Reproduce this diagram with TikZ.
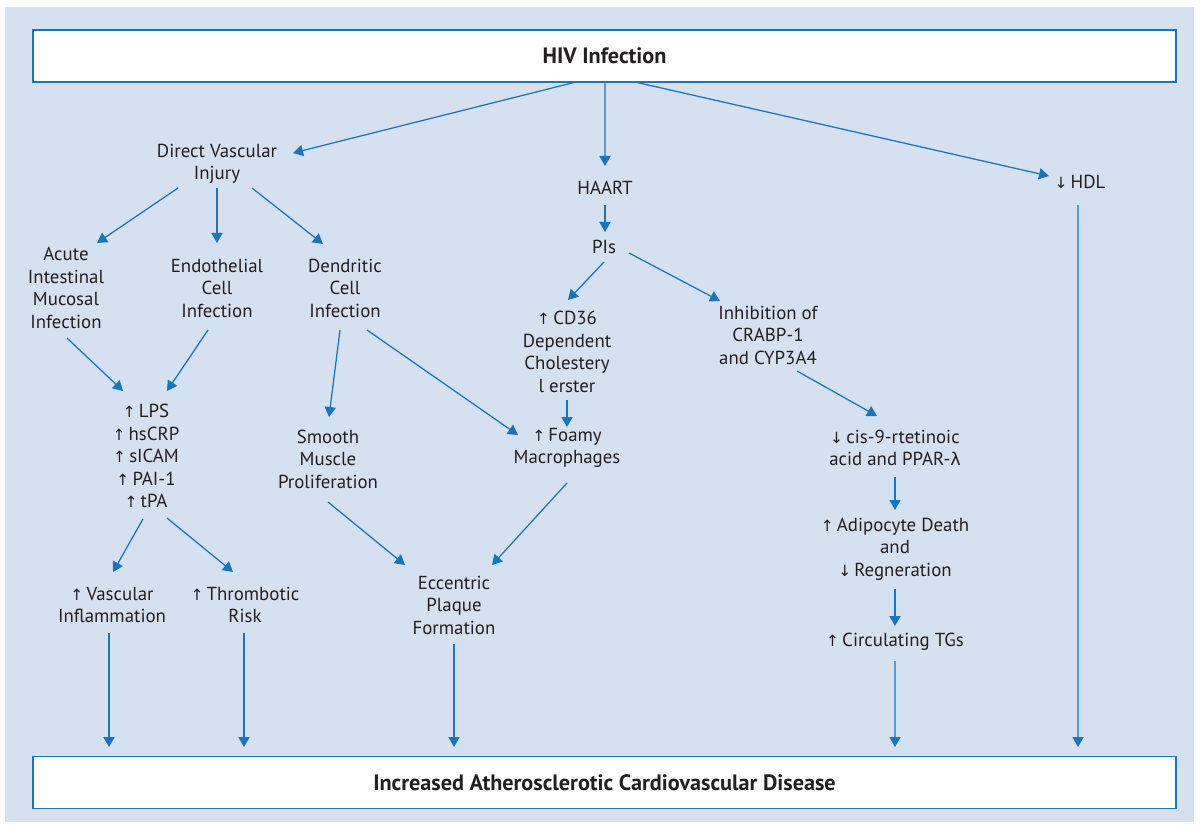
\documentclass[tikz,border=0pt]{standalone}
\usepackage{fontspec}
\setmainfont{PT Sans}
\newfontfamily\symfont{DejaVu Sans}
\usepackage{tikz}
\usetikzlibrary{arrows.meta,calc}
\definecolor{lineBlue}{HTML}{1B75BC}
\definecolor{paneBlue}{HTML}{D5E0F0}
\definecolor{inkGray}{HTML}{231F20}
\newcommand{\incr}{{\symfont\fontsize{11}{16}\selectfont ↑}\,}
\newcommand{\decr}{{\symfont\fontsize{11}{16}\selectfont ↓}\,}
\newcommand{\lam}{{\symfont\fontsize{12.5}{16}\selectfont λ}}

\begin{document}
\begin{tikzpicture}[
    x=0.025cm, y=-0.025cm,
    lbl/.style={align=center,text=inkGray,inner sep=0pt,font=\fontsize{13.4}{16}\selectfont},
    bigbox/.style={draw=lineBlue,line width=1.2pt,fill=white,text=inkGray,
        minimum width=28.575cm,minimum height=1.3cm,inner sep=0pt,
        font=\fontsize{15.8}{18}\selectfont\bfseries},
    flow/.style={-{Triangle[length=0.25cm,width=0.28cm]},draw=lineBlue,line width=0.9pt}
]
    \useasboundingbox (0,0) rectangle (1200,827);
    \fill[paneBlue] (5,7) rectangle (1194,822);

    % boxes
    \node[bigbox] (hiv) at (604.5,56) {HIV Infection};
    \node[bigbox] (cvd) at (604.5,782.5) {Increased Atherosclerotic Cardiovascular Disease};

    % left branch
    \node[lbl] (dvi) at (217,164) {Direct Vascular\\Injury};
    \node[lbl] (acute) at (66,288) {Acute\\Intestinal\\Mucosal\\Infection};
    \node[lbl] (endo) at (217,288) {Endothelial\\Cell\\Infection};
    \node[lbl] (dend) at (345,288) {Dendritic\\Cell\\Infection};
    \node[lbl] (lps) at (146,456) {\incr LPS\\\incr hsCRP\\\incr sICAM\\\incr PAI-1\\\incr tPA};
    \node[lbl] (smooth) at (328,459) {Smooth\\Muscle\\Proliferation};
    \node[lbl] (vasc) at (112,605) {\incr Vascular\\Inflammation};
    \node[lbl] (thromb) at (245,605) {\incr Thrombotic\\Risk};
    \node[lbl] (ecc) at (454,605) {Eccentric\\Plaque\\Formation};

    % middle branch
    \node[lbl] (haart) at (605,188) {HAART};
    \node[lbl] (pis) at (604,247) {PIs};
    \node[lbl] (cd36) at (567,352) {\incr CD36\\Dependent\\Cholestery\\l erster};
    \node[lbl] (foamy) at (567,448) {\incr Foamy\\Macrophages};
    \node[lbl] (inhib) at (768,335) {Inhibition of\\CRABP-1\\and CYP3A4};
    \node[lbl] (cis) at (895,448) {\decr cis-9-rtetinoic\\acid and PPAR-\lam};
    \node[lbl] (adipo) at (895,549) {\incr Adipocyte Death\\and\\\decr Regneration};
    \node[lbl] (tgs) at (895,642) {\incr Circulating TGs};

    % right branch
    \node[lbl] (hdl) at (1080,182) {\decr HDL};

    % connectors
    \draw[flow] ($(hiv)+(-28.5,26)$) -- ($(dvi)+(76,-11)$);
    \draw[flow] ($(hiv)+(0.5,26)$) -- ($(haart)+(0,-22)$);
    \draw[flow] ($(hiv)+(30.5,26)$) -- ($(hdl)+(-31,-6)$);

    \draw[flow] ($(dvi)+(-39,24)$) -- ($(acute)+(31,-45)$);
    \draw[flow] ($(dvi)+(0,24)$) -- ($(endo)+(0,-45)$);
    \draw[flow] ($(dvi)+(35,24)$) -- ($(dend)+(-22,-44)$);
    \draw[flow] ($(acute)+(1,50)$) -- ($(lps)+(-23,-65)$);
    \draw[flow] ($(endo)+(-9,42)$) -- ($(lps)+(21,-65)$);
    \draw[flow] ($(dend)+(-5,42)$) -- ($(smooth)+(1,-42)$);
    \draw[flow] ($(dend)+(22,42)$) -- ($(foamy)+(-49,-13)$);
    \draw[flow] ($(lps)+(-3,63)$) -- ($(vasc)+(1,-33)$);
    \draw[flow] ($(lps)+(21,62)$) -- ($(thromb)+(-12,-33)$);
    \draw[flow] ($(smooth)+(0,43)$) -- ($(ecc)+(-49,-40)$);
    \draw[flow] ($(foamy)+(0,35)$) -- ($(ecc)+(38,-40)$);

    \draw[flow] ($(haart)+(0,17)$) -- ($(pis)+(1,-15)$);
    \draw[flow] ($(pis)+(0,15)$) -- ($(cd36)+(1,-52)$);
    \draw[flow] ($(pis)+(25,6)$) -- ($(inhib)+(-48,-34)$);
    \draw[flow] ($(cd36)+(0,48)$) -- ($(foamy)+(0,-21)$);
    \draw[flow] ($(inhib)+(29,36)$) -- ($(cis)+(-18,-32)$);
    \draw[flow] ($(cis)+(0,29)$) -- ($(adipo)+(0,-39)$);
    \draw[flow] ($(adipo)+(0,40)$) -- ($(tgs)+(0,-16)$);

    % into the bottom box
    \draw[flow] ($(vasc)+(-3,28)$) -- ($(cvd)+(-495.5,-35.5)$);
    \draw[flow] ($(thromb)+(-1,28)$) -- ($(cvd)+(-360.5,-35.5)$);
    \draw[flow] ($(ecc)+(0,39)$) -- ($(cvd)+(-150.5,-35.5)$);
    \draw[flow] ($(tgs)+(0,19)$) -- ($(cvd)+(290.5,-35.5)$);
    \draw[flow] ($(hdl)+(-2,23)$) -- ($(cvd)+(473.5,-35.5)$);
\end{tikzpicture}
\end{document}
